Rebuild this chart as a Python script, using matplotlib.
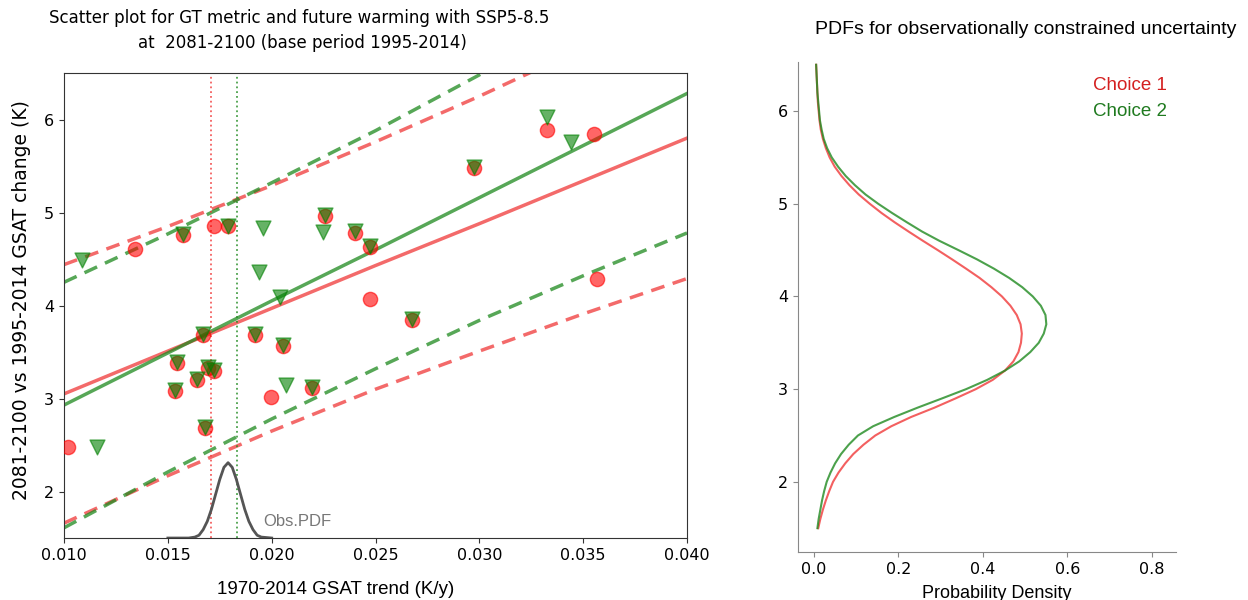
import matplotlib
matplotlib.use('Agg')
import matplotlib.pyplot as plt

# scatter values
red_x = [0.01572, 0.01789, 0.02255, 0.02399, 0.02471, 0.02976, 0.01668, 0.01918, 0.02053,
         0.01543, 0.01692, 0.01721, 0.01639, 0.01534, 0.02192, 0.01678, 0.02678,
         0.01019, 0.01341, 0.01721, 0.01995, 0.02471, 0.03327, 0.03553, 0.03567]
red_y = [4.76, 4.85, 4.96, 4.78, 4.63, 5.48, 3.68, 3.68, 3.57,
         3.38, 3.33, 3.30, 3.20, 3.08, 3.11, 2.68, 3.84,
         2.48, 4.61, 4.85, 3.02, 4.07, 5.89, 5.84, 4.28]

green_x = [0.01572, 0.01789, 0.02255, 0.02399, 0.02471, 0.02976, 0.01668, 0.01918, 0.02053,
           0.01543, 0.01692, 0.01721, 0.01639, 0.01534, 0.02192, 0.01678, 0.02678,
           0.01159, 0.01087, 0.01957, 0.01938, 0.02039, 0.02067, 0.02245, 0.03327, 0.03442]
green_y = [4.77, 4.86, 4.97, 4.80, 4.64, 5.49, 3.69, 3.69, 3.58,
           3.39, 3.34, 3.31, 3.21, 3.09, 3.12, 2.69, 3.85,
           2.48, 4.49, 4.83, 4.36, 4.09, 3.15, 4.79, 6.03, 5.76]

# regression lines and prediction bands
line_x = [0.010, 0.015, 0.020, 0.025, 0.030, 0.035, 0.040]
red_fit = [3.05, 3.51, 3.97, 4.43, 4.88, 5.34, 5.80]
red_upper = [4.44, 4.85, 5.29, 5.76, 6.25, 6.77, 7.31]
red_lower = [1.66, 2.17, 2.65, 3.10, 3.51, 3.91, 4.29]
green_fit = [2.93, 3.49, 4.05, 4.60, 5.16, 5.72, 6.28]
green_upper = [4.25, 4.77, 5.32, 5.88, 6.48, 7.12, 7.78]
green_lower = [1.61, 2.21, 2.78, 3.32, 3.84, 4.32, 4.78]

obs_red = 0.01707
obs_green = 0.01832

# observed trend PDF (drawn on the y=1.5 baseline)
obs_x = [0.0150, 0.0160, 0.0163, 0.0165, 0.0167, 0.0169, 0.0171, 0.0173, 0.0175, 0.0177,
         0.0179, 0.0181, 0.0183, 0.0185, 0.0187, 0.0189, 0.0191, 0.0193, 0.0195, 0.0200]
obs_y = [1.50, 1.50, 1.51, 1.53, 1.59, 1.68, 1.81, 1.97, 2.13, 2.26,
         2.31, 2.26, 2.13, 1.97, 1.81, 1.68, 1.59, 1.53, 1.51, 1.50]

# constrained PDFs, sampled every 0.1 K
pdf_y = [1.5, 1.6, 1.7, 1.8, 1.9, 2.0, 2.1, 2.2, 2.3, 2.4, 2.5, 2.6, 2.7, 2.8, 2.9,
         3.0, 3.1, 3.2, 3.3, 3.4, 3.5, 3.6, 3.7, 3.8, 3.9, 4.0, 4.1, 4.2, 4.3, 4.4,
         4.5, 4.6, 4.7, 4.8, 4.9, 5.0, 5.1, 5.2, 5.3, 5.4, 5.5, 5.6, 5.7, 5.8, 5.9,
         6.0, 6.1, 6.2, 6.3, 6.4, 6.5]
pdf_choice1 = [0.010, 0.015, 0.021, 0.028, 0.036, 0.045, 0.058, 0.074, 0.093, 0.117,
               0.145, 0.183, 0.230, 0.285, 0.335, 0.383, 0.423, 0.452, 0.472, 0.484,
               0.490, 0.492, 0.489, 0.480, 0.465, 0.445, 0.420, 0.392, 0.360, 0.327,
               0.293, 0.258, 0.224, 0.191, 0.160, 0.132, 0.106, 0.084, 0.065, 0.049,
               0.037, 0.028, 0.021, 0.016, 0.013, 0.011, 0.009, 0.008, 0.007, 0.006, 0.005]
pdf_choice2 = [0.008, 0.011, 0.015, 0.019, 0.024, 0.030, 0.039, 0.050, 0.064, 0.082,
               0.104, 0.140, 0.190, 0.245, 0.303, 0.360, 0.410, 0.452, 0.486, 0.512,
               0.532, 0.544, 0.550, 0.548, 0.537, 0.518, 0.493, 0.462, 0.426, 0.386,
               0.342, 0.297, 0.256, 0.220, 0.185, 0.152, 0.122, 0.097, 0.075, 0.057,
               0.042, 0.031, 0.023, 0.018, 0.014, 0.012, 0.010, 0.008, 0.007, 0.006, 0.005]

RED = '#f03838'
GREEN = '#1f8a1f'

fig = plt.figure(figsize=(12.48, 6), dpi=100)

ax = fig.add_axes([0.0513, 0.1033, 0.4992, 0.775])
ax.scatter(red_x, red_y, s=105, marker='o', color='red', alpha=0.6, zorder=3)
ax.scatter(green_x, green_y, s=115, marker='v', color='green', alpha=0.6, zorder=4)

ax.plot(line_x, red_fit, color=RED, alpha=0.75, lw=2.5)
ax.plot(line_x, green_fit, color=GREEN, alpha=0.75, lw=2.5)
for band in (red_upper, red_lower):
    ax.plot(line_x, band, color=RED, alpha=0.75, lw=2.5, dashes=(4, 2.5))
for band in (green_upper, green_lower):
    ax.plot(line_x, band, color=GREEN, alpha=0.75, lw=2.5, dashes=(4, 2.5))

ax.axvline(obs_red, color=RED, lw=1.3, ls=':', alpha=0.8)
ax.axvline(obs_green, color=GREEN, lw=1.3, ls=':', alpha=0.8)
ax.plot(obs_x, obs_y, color='#555555', lw=2)
ax.text(0.0196, 1.68, 'Obs.PDF', color='#777777', fontsize=12,
        family='Liberation Sans', va='center')

ax.set_xlim(0.010, 0.040)
ax.set_ylim(1.5, 6.5)
ax.set_xticks([0.010, 0.015, 0.020, 0.025, 0.030, 0.035, 0.040])
ax.set_xticklabels(['0.010', '0.015', '0.020', '0.025', '0.030', '0.035', '0.040'])
ax.set_yticks([2, 3, 4, 5, 6])
ax.tick_params(labelsize=11.5, color='#333333')
for sp in ax.spines.values():
    sp.set_color('#333333')

fig.text(0.240, 1 - 18 / 600, 'Scatter plot for GT metric and future warming with SSP5-8.5',
         ha='center', va='center', fontsize=12)
fig.text(0.242, 1 - 43 / 600, 'at  2081-2100 (base period 1995-2014)',
         ha='center', va='center', fontsize=12)
fig.text(336 / 1248, 1 - 589 / 600, '1970-2014 GSAT trend (K/y)', ha='center', va='center',
         fontsize=13.5, family='Liberation Sans')
fig.text(22 / 1248, 0.5, '2081-2100 vs 1995-2014 GSAT change (K)', ha='center', va='center',
         rotation=90, fontsize=13.5)

# right panel
ax2 = fig.add_axes([0.6394, 0.08, 0.3029, 0.8167])
ax2.plot(pdf_choice1, pdf_y, color=RED, alpha=0.8, lw=1.5, label='Choice 1')
ax2.plot(pdf_choice2, pdf_y, color=GREEN, alpha=0.8, lw=1.5, label='Choice 2')
ax2.set_xlim(-0.038, 0.857)
ax2.set_ylim(1.243, 6.53)
ax2.set_xticks([0.0, 0.2, 0.4, 0.6, 0.8])
ax2.set_yticks([2, 3, 4, 5, 6])
ax2.spines['top'].set_visible(False)
ax2.spines['right'].set_visible(False)
for sp in ('left', 'bottom'):
    ax2.spines[sp].set_color('#888888')
ax2.tick_params(labelsize=11.5, color='#888888')
leg = ax2.legend(loc='upper right', frameon=False, handlelength=0, handletextpad=0,
                 prop={'family': 'Liberation Sans', 'size': 13.5},
                 bbox_to_anchor=(1.02, 1.005))
for txt, c in zip(leg.get_texts(), ('#d42020', '#1f7a1f')):
    txt.set_color(c)
for h in leg.legend_handles:
    h.set_visible(False)

fig.text(1026 / 1248, 1 - 30 / 600, 'PDFs for observationally constrained uncertainty',
         ha='center', va='center', fontsize=14, family='Liberation Sans')
fig.text(997 / 1248, 1 - 585 / 600, 'Probability Density', ha='center', va='top',
         fontsize=13, family='Liberation Sans')

fig.savefig('out.png', dpi=100)
